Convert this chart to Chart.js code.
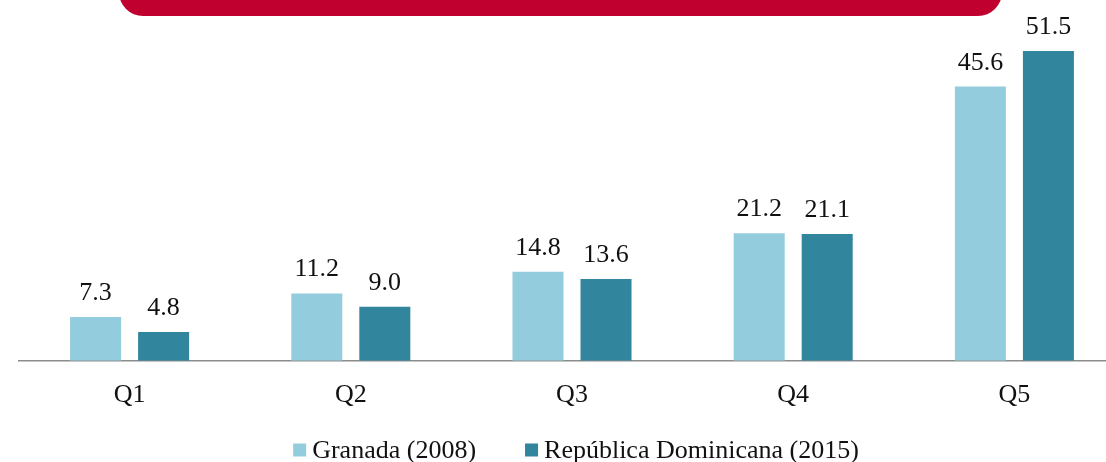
<!DOCTYPE html>
<html>
<head>
<meta charset="utf-8">
<script src="https://cdn.jsdelivr.net/npm/chart.js@4/dist/chart.umd.min.js"></script>
<style>
    html, body {
        margin: 0;
        padding: 0;
        background: #ffffff;
        overflow: hidden;
    }

    #wrap {
        position: absolute;
        left: 0;
        top: 0;
        width: 1152px;
        height: 462px;
    }
</style>
</head>
<body>

<div id="wrap">
    <canvas id="quintileChart"></canvas>
</div>

<script>

const categories = ["Q1", "Q2", "Q3", "Q4", "Q5"];

const granadaValues = [7.3, 11.2, 14.8, 21.2, 45.6];

const dominicanaValues = [4.8, 9.0, 13.6, 21.1, 51.5];

const seriesLabels = ["Granada (2008)", "República Dominicana (2015)"];

const FONT = "'Liberation Serif', 'Times New Roman', serif";

// red header band, mostly cut off at the top of the picture
const bannerPlugin = {

    id: "banner",

    beforeDraw(chart) {

        const ctx = chart.ctx;

        ctx.save();
        ctx.fillStyle = "#C0002F";
        ctx.beginPath();
        ctx.roundRect(119, -40, 883, 56, 24);
        ctx.fill();
        ctx.restore();

    },

};

// value labels above each bar
const valueLabels = {

    id: "valueLabels",

    afterDatasetsDraw(chart) {

        const ctx = chart.ctx;

        ctx.save();
        ctx.font = "26px " + FONT;
        ctx.fillStyle = "#111111";
        ctx.textAlign = "center";
        ctx.textBaseline = "alphabetic";

        chart.data.datasets.forEach((dataset, i) => {

            chart.getDatasetMeta(i).data.forEach((bar, j) => {

                ctx.fillText(
                    dataset.data[j].toFixed(1),
                    bar.x,
                    bar.y - 17
                );

            });

        });

        ctx.restore();

    },

};

// legend drawn by hand so the spacing matches
const bottomLegend = {

    id: "bottomLegend",

    afterDraw(chart) {

        const ctx = chart.ctx;
        const box = 13;
        const textGap = 6;
        const itemGap = 49;
        const centerX = 576;
        const centerY = 450;

        ctx.save();
        ctx.font = "26px " + FONT;
        ctx.textBaseline = "middle";
        ctx.textAlign = "left";

        const items = chart.data.datasets.map((ds) => ({
            text: ds.label,
            color: ds.backgroundColor,
            width: box + textGap + ctx.measureText(ds.label).width,
        }));

        let total = itemGap * (items.length - 1);
        items.forEach((it) => { total += it.width; });

        let x = centerX - total / 2;

        items.forEach((it) => {

            ctx.fillStyle = it.color;
            ctx.fillRect(x, centerY - box / 2, box, box);

            ctx.fillStyle = "#111111";
            ctx.fillText(it.text, x + box + textGap, centerY + 1);

            x += it.width + itemGap;

        });

        ctx.restore();

    },

};

const canvas = document.getElementById("quintileChart");

new Chart(canvas, {

    type: "bar",

    data: {

        labels: categories,

        datasets: [

            {
                label: seriesLabels[0],
                data: granadaValues,
                backgroundColor: "#93CDDD",
                categoryPercentage: 0.615,
                barPercentage: 0.75,
            },

            {
                label: seriesLabels[1],
                data: dominicanaValues,
                backgroundColor: "#31859C",
                categoryPercentage: 0.615,
                barPercentage: 0.75,
            },

        ],

    },

    options: {

        responsive: true,
        maintainAspectRatio: false,
        animation: false,

        layout: {
            padding: {
                left: 19,
                right: 27,
                top: 0,
                bottom: 40,
            },
        },

        plugins: {
            legend: { display: false },
            tooltip: { enabled: false },
        },

        scales: {

            x: {
                grid: {
                    display: false,
                },
                border: {
                    display: true,
                    color: "#8C8C8C",
                    width: 1.5,
                },
                ticks: {
                    color: "#111111",
                    padding: 11,
                    font: {
                        family: FONT,
                        size: 26,
                    },
                },
            },

            y: {
                display: false,
                min: 0,
                max: 60,
            },

        },

    },

    plugins: [bannerPlugin, valueLabels, bottomLegend],

});

</script>
</body>
</html>
